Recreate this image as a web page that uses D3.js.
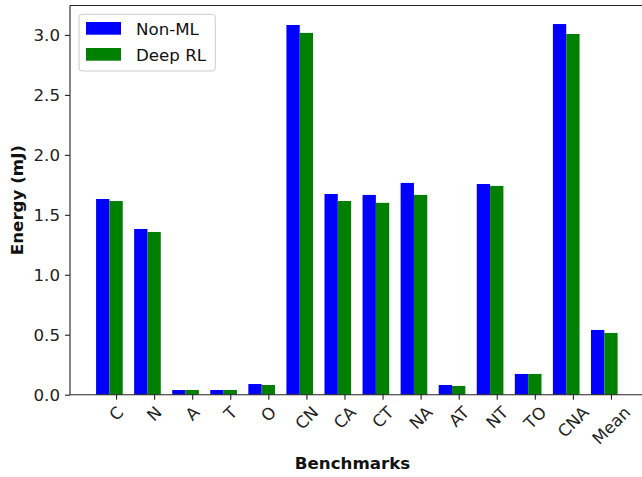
<!DOCTYPE html>
<html>
<head>
<meta charset="utf-8">
<script src="https://cdn.jsdelivr.net/npm/d3@7"></script>
<style>
  html, body { margin: 0; padding: 0; background: #fff; overflow: hidden; }
  svg { display: block; overflow: hidden; font-family: "DejaVu Sans", sans-serif; }
</style>
</head>
<body>
<svg id="chart" width="642" height="477"></svg>
<script>
// Energy per benchmark, conventional controller vs. deep RL controller
const categories = ["C", "N", "A", "T", "O", "CN", "CA", "CT", "NA", "AT", "NT", "TO", "CNA", "Mean"];
const nonML  = [1.632, 1.382, 0.039, 0.039, 0.089, 3.083, 1.674, 1.666, 1.766, 0.081, 1.757, 0.173, 3.091, 0.540];
const deepRL = [1.615, 1.357, 0.039, 0.039, 0.081, 3.017, 1.615, 1.600, 1.666, 0.073, 1.741, 0.173, 3.008, 0.515];
const seriesNames = ["Non-ML", "Deep RL"];
const seriesColors = ["#0000ff", "#008000"];
const yTicks = [0.0, 0.5, 1.0, 1.5, 2.0, 2.5, 3.0];

const FS = 16.67;
const svg = d3.select("#chart");
const barW = 0.35;
const n = categories.length;

// bars: first series centred on i, second on i + barW
const xLo = -barW / 2, xHi = (n - 1) + barW * 1.5;
const xPad = (xHi - xLo) * 0.05;
const x = d3.scaleLinear().domain([xLo - xPad, xHi + xPad]).range([70, 643.7]);
const yMax = d3.max(nonML.concat(deepRL)) * 1.05;
const y = d3.scaleLinear().domain([0, yMax]).range([394.7, 5.5]);

const plot = svg.append("g");

[nonML, deepRL].forEach((vals, s) => {
  plot.append("g").selectAll("rect")
    .data(vals)
    .join("rect")
    .attr("x", (d, i) => x(i + s * barW - barW / 2))
    .attr("width", (d, i) => x(i + s * barW + barW / 2) - x(i + s * barW - barW / 2))
    .attr("y", d => y(d))
    .attr("height", d => y(0) - y(d))
    .attr("fill", seriesColors[s]);
});

// spines (the right one lies past the canvas edge)
const spine = svg.append("g").attr("stroke", "#222").attr("stroke-width", 1.1).attr("fill", "none");
spine.append("line").attr("x1", x.range()[0]).attr("x2", x.range()[0]).attr("y1", y.range()[0]).attr("y2", y.range()[1]);
spine.append("line").attr("x1", x.range()[0]).attr("x2", 642).attr("y1", y.range()[0]).attr("y2", y.range()[0]);
spine.append("line").attr("x1", x.range()[0]).attr("x2", 642).attr("y1", y.range()[1]).attr("y2", y.range()[1]);

// y axis
const yAxis = d3.axisLeft(y).tickValues(yTicks).tickFormat(d3.format(".1f")).tickSize(5).tickPadding(5);
const gy = svg.append("g").attr("transform", `translate(${x.range()[0]},0)`).call(yAxis);
gy.select(".domain").remove();
gy.selectAll(".tick line").attr("stroke", "#222").attr("stroke-width", 1.1);
gy.selectAll(".tick text").attr("font-size", FS).attr("fill", "#222").attr("font-family", "DejaVu Sans");

// x axis: ticks at the second bar of each pair
const xAxis = d3.axisBottom(x).tickValues(d3.range(n).map(i => i + barW))
  .tickFormat((d, i) => categories[i]).tickSize(5).tickPadding(0);
const gx = svg.append("g").attr("transform", `translate(0,${y.range()[0]})`).call(xAxis);
gx.select(".domain").remove();
gx.selectAll(".tick line").attr("stroke", "#222").attr("stroke-width", 1.1);
gx.selectAll(".tick text")
  .attr("font-size", FS).attr("fill", "#222").attr("font-family", "DejaVu Sans")
  .attr("text-anchor", "middle").attr("dy", null).attr("dominant-baseline", "central")
  .each(function () {
    const t = d3.select(this);
    const w = this.getComputedTextLength();
    const h = FS * 1.0;
    const cy = 9 + (w + h) * Math.SQRT1_2 / 2;
    t.attr("y", null).attr("transform", `translate(0,${cy}) rotate(-45)`);
  });

// axis titles
svg.append("text")
  .attr("x", 352.5).attr("y", 469)
  .attr("text-anchor", "middle")
  .attr("font-size", FS).attr("font-weight", "bold").attr("fill", "#111")
  .text("Benchmarks");
svg.append("text")
  .attr("transform", `translate(23,${(y.range()[0] + y.range()[1]) / 2}) rotate(-90)`)
  .attr("text-anchor", "middle")
  .attr("font-size", FS).attr("font-weight", "bold").attr("fill", "#111")
  .text("Energy (mJ)");

// legend
const lg = svg.append("g");
lg.append("rect").attr("x", 79).attr("y", 14.3).attr("width", 136.3).attr("height", 56.7)
  .attr("rx", 3).attr("fill", "#fff").attr("fill-opacity", 0.8)
  .attr("stroke", "#ccc").attr("stroke-width", 1);
seriesNames.forEach((name, s) => {
  const yy = 22 + s * 26;
  lg.append("rect").attr("x", 86).attr("y", yy).attr("width", 35).attr("height", 12.7).attr("fill", seriesColors[s]);
  lg.append("text").attr("x", 136).attr("y", yy + 12.7)
    .attr("font-size", FS).attr("fill", "#111").text(name);
});
</script>
</body>
</html>
